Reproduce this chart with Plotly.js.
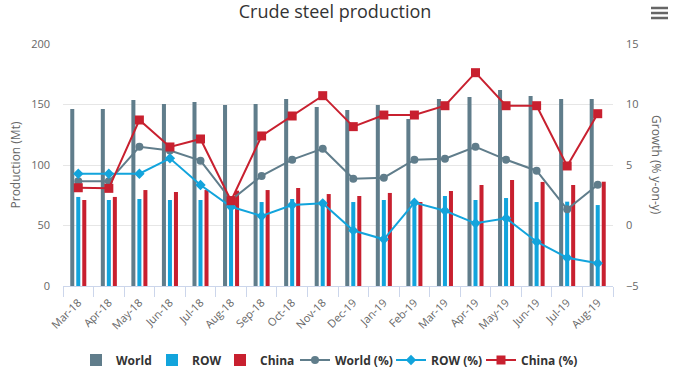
<!DOCTYPE html>
<html>
<head>
<meta charset="utf-8">
<script src="https://cdn.plot.ly/plotly-3.0.1.min.js"></script>
<style>html,body{margin:0;padding:0;background:#fff;}#chart{width:679px;height:370px;}</style>
</head>
<body>
<div id="chart"></div>
<script>
const months = ['Mar-18','Apr-18','May-18','Jun-18','Jul-18','Aug-18','Sep-18','Oct-18','Nov-18','Dec-19','Jan-19','Feb-19','Mar-19','Apr-19','May-19','Jun-19','Jul-19','Aug-19'];
const world = [146.3,146.3,153.7,150.4,152.1,149.6,150.4,154.5,147.9,145.5,149.6,138.0,154.5,156.2,162.0,157.0,154.5,154.5];
const row = [73.6,71.1,71.9,71.1,71.1,68.8,69.4,71.9,70.0,69.4,71.1,69.5,74.4,71.1,72.7,69.4,69.7,66.9];
const china = [71.1,73.6,79.3,77.7,79.3,78.8,79.3,81.0,76.0,74.4,76.9,69.4,78.5,83.5,87.6,86.0,83.5,86.2];
const worldPct = [3.65,3.65,6.5,6.2,5.36,2.1,4.1,5.44,6.35,3.86,3.95,5.44,5.52,6.5,5.44,4.53,1.34,3.37];
const rowPct = [4.28,4.28,4.28,5.55,3.35,1.55,0.79,1.69,1.83,-0.42,-1.14,1.89,1.22,0.18,0.59,-1.34,-2.66,-3.12];
const chinaPct = [3.12,3.07,8.72,6.49,7.15,2.05,7.4,9.05,10.73,8.17,9.13,9.13,9.9,12.63,9.9,9.9,4.92,9.24];

const cWorld = '#607d8b', cRow = '#12a4dc', cChina = '#c8202f';

const traces = [
  {type:'bar', name:'World', x:months, y:world, marker:{color:cWorld}, yaxis:'y', legendwidth:31},
  {type:'bar', name:'ROW', x:months, y:row, marker:{color:cRow}, yaxis:'y', legendwidth:23},
  {type:'bar', name:'China', x:months, y:china, marker:{color:cChina}, yaxis:'y', legendwidth:30},
  {type:'scatter', mode:'lines+markers', name:'World (%)', x:months, y:worldPct, yaxis:'y2', legendwidth:51,
   line:{color:cWorld, width:2}, marker:{symbol:'circle', size:8, color:cWorld}},
  {type:'scatter', mode:'lines+markers', name:'ROW (%)', x:months, y:rowPct, yaxis:'y2', legendwidth:45,
   line:{color:cRow, width:2}, marker:{symbol:'diamond', size:8, color:cRow}},
  {type:'scatter', mode:'lines+markers', name:'China (%)', x:months, y:chinaPct, yaxis:'y2', legendwidth:56,
   line:{color:cChina, width:2}, marker:{symbol:'square', size:9, color:cChina}}
];

const tickFont = {family:'"Open Sans", "DejaVu Sans", sans-serif', size:11, color:'#666666'};
const hb = [1.1488, 1.128, 1.1074];

const layout = {
  width:679, height:370,
  margin:{l:63, r:66, t:44, b:84},
  paper_bgcolor:'#ffffff', plot_bgcolor:'#ffffff',
  font:{family:'"Open Sans", "DejaVu Sans", sans-serif', color:'#666666'},
  title:{text:'Crude steel production', font:{size:18, color:'#333333', family:'"Open Sans", "DejaVu Sans", sans-serif'},
         xref:'container', x:0.4934, xanchor:'center', yref:'container', y:1-12/370, yanchor:'middle'},
  barmode:'group', bargap:0.41, bargroupgap:0.33,
  hovermode:false,
  showlegend:true,
  legend:{orientation:'h', xref:'container', x:76/679, xanchor:'left', yref:'container', y:1-360/370, yanchor:'middle',
          font:{size:12, color:'#333333', weight:'bold', family:'"Open Sans", "DejaVu Sans", sans-serif'}, traceorder:'normal'},
  xaxis:{type:'category', range:[-0.5,17.5], tickangle:-45, tickfont:tickFont, ticks:'outside', tickson:'boundaries', ticklen:10,
         ticklabelstandoff:5,
         tickcolor:'#ccd6eb', showline:true, linecolor:'#ccd6eb', linewidth:1, showgrid:false, zeroline:false, automargin:false},
  yaxis:{range:[0,200], dtick:50, tickfont:tickFont, showgrid:true, gridcolor:'#e6e6e6', zeroline:false, showline:false,
         ticks:'', ticklabelstandoff:12, automargin:false,
         title:{text:'Production (Mt)', font:{size:12, color:'#666666'}, standoff:7}},
  yaxis2:{range:[-5,15], dtick:5, overlaying:'y', side:'right', tickfont:tickFont, showgrid:false, zeroline:false,
          showline:false, ticks:'', ticklabelstandoff:12, automargin:false},
  annotations:[{text:'Growth (% y-on-y)', xref:'paper', yref:'paper', x:(657-63)/550, y:0.5, textangle:90,
                showarrow:false, font:{size:12, color:'#666666'}, xanchor:'center', yanchor:'middle'}],
  shapes: hb.map(v => ({type:'line', xref:'paper', yref:'paper', x0:(651-63)/550, x1:(668-63)/550, y0:v, y1:v,
                        line:{color:'#666666', width:2.5}}))
};

Plotly.newPlot('chart', traces, layout, {displayModeBar:false, staticPlot:true});
</script>
</body>
</html>
